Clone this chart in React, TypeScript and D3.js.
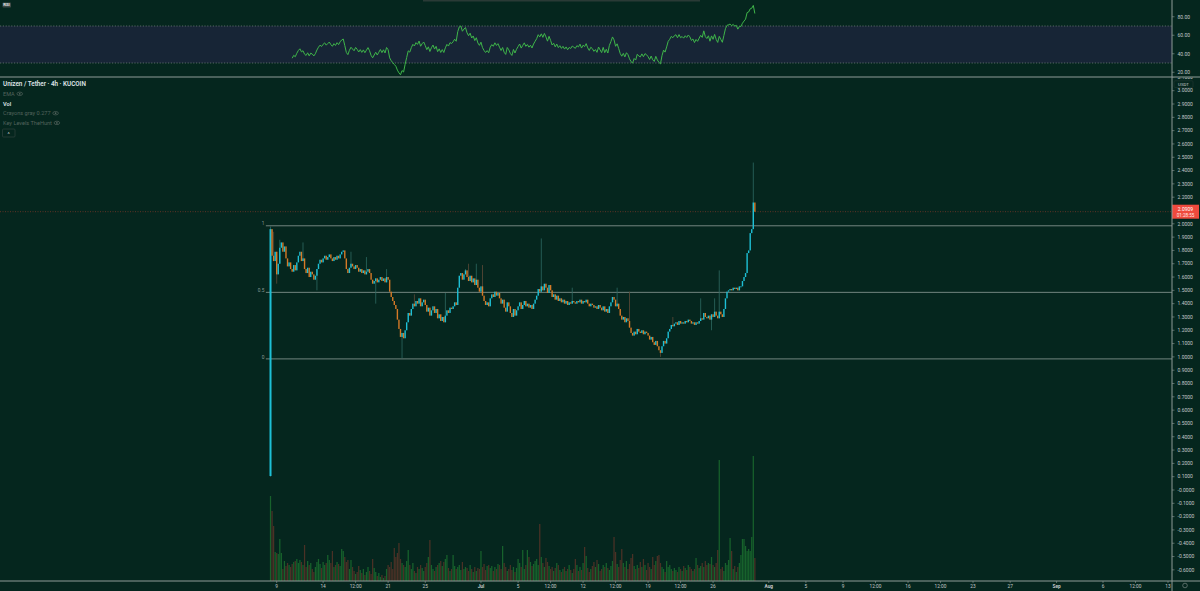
import React from "react";
import * as d3 from "d3";

// ---------------- DATA ----------------
const firstCandleTime = "2021-06-08T08:00:00Z";
const candleHours = 4;
const firstOpen = 0.105;

// 4h closes, one row per day (Jun 8 .. Jul 30)
const closesByDay: number[][] = [
  [1.96, 1.76, 1.72, 1.79], // Jun 8
  [1.62, 1.70, 1.82, 1.86, 1.79, 1.83], // Jun 9
  [1.74, 1.68, 1.71, 1.66, 1.64, 1.69], // Jun 10
  [1.65, 1.71, 1.76, 1.79, 1.72, 1.74], // Jun 11
  [1.66, 1.63, 1.67, 1.60, 1.64, 1.62], // Jun 12
  [1.58, 1.61, 1.66, 1.70, 1.73, 1.71], // Jun 13
  [1.74, 1.76, 1.73, 1.75, 1.77, 1.74], // Jun 14
  [1.72, 1.75, 1.73, 1.76, 1.74, 1.77], // Jun 15
  [1.79, 1.80, 1.74, 1.66, 1.63, 1.67], // Jun 16
  [1.70, 1.68, 1.66, 1.69, 1.67, 1.64], // Jun 17
  [1.66, 1.63, 1.65, 1.62, 1.64, 1.66], // Jun 18
  [1.63, 1.58, 1.55, 1.57, 1.59, 1.56], // Jun 19
  [1.58, 1.60, 1.57, 1.59, 1.56, 1.60], // Jun 20
  [1.58, 1.49, 1.45, 1.42, 1.39, 1.36], // Jun 21
  [1.28, 1.21, 1.15, 1.18, 1.14, 1.20], // Jun 22
  [1.26, 1.33, 1.31, 1.36, 1.40, 1.38], // Jun 23
  [1.42, 1.40, 1.44, 1.38, 1.41, 1.43], // Jun 24
  [1.39, 1.34, 1.37, 1.31, 1.35, 1.38], // Jun 25
  [1.33, 1.36, 1.29, 1.32, 1.27, 1.30], // Jun 26
  [1.26, 1.31, 1.35, 1.33, 1.37, 1.36], // Jun 27
  [1.38, 1.41, 1.39, 1.52, 1.61, 1.63], // Jun 28
  [1.58, 1.62, 1.65, 1.60, 1.57, 1.61], // Jun 29
  [1.56, 1.59, 1.54, 1.58, 1.52, 1.49], // Jun 30
  [1.53, 1.46, 1.42, 1.39, 1.41, 1.38], // Jul 1
  [1.44, 1.47, 1.45, 1.49, 1.46, 1.48], // Jul 2
  [1.44, 1.40, 1.43, 1.37, 1.34, 1.41], // Jul 3
  [1.38, 1.33, 1.30, 1.36, 1.31, 1.35], // Jul 4
  [1.38, 1.41, 1.36, 1.39, 1.42, 1.38], // Jul 5
  [1.40, 1.37, 1.39, 1.36, 1.40, 1.43], // Jul 6
  [1.46, 1.51, 1.49, 1.53, 1.50, 1.55], // Jul 7
  [1.52, 1.48, 1.54, 1.50, 1.45, 1.47], // Jul 8
  [1.43, 1.46, 1.42, 1.44, 1.41, 1.43], // Jul 9
  [1.40, 1.42, 1.39, 1.41, 1.40, 1.42], // Jul 10
  [1.41, 1.40, 1.42, 1.41, 1.43, 1.40], // Jul 11
  [1.42, 1.41, 1.43, 1.40, 1.38, 1.40], // Jul 12
  [1.39, 1.37, 1.38, 1.36, 1.39, 1.37], // Jul 13
  [1.35, 1.38, 1.34, 1.36, 1.33, 1.38], // Jul 14
  [1.41, 1.45, 1.43, 1.38, 1.40, 1.36], // Jul 15
  [1.31, 1.28, 1.30, 1.26, 1.29, 1.27], // Jul 16
  [1.22, 1.18, 1.16, 1.19, 1.17, 1.21], // Jul 17
  [1.19, 1.18, 1.20, 1.17, 1.19, 1.18], // Jul 18
  [1.16, 1.13, 1.15, 1.11, 1.09, 1.12], // Jul 19
  [1.08, 1.05, 1.03, 1.08, 1.12, 1.10], // Jul 20
  [1.14, 1.19, 1.21, 1.24, 1.23, 1.25], // Jul 21
  [1.26, 1.24, 1.27, 1.25, 1.26, 1.25], // Jul 22
  [1.27, 1.26, 1.28, 1.27, 1.25, 1.26], // Jul 23
  [1.24, 1.26, 1.25, 1.27, 1.29, 1.28], // Jul 24
  [1.33, 1.30, 1.29, 1.31, 1.28, 1.32], // Jul 25
  [1.30, 1.34, 1.31, 1.29, 1.34, 1.32], // Jul 26
  [1.30, 1.36, 1.44, 1.49, 1.50, 1.51], // Jul 27
  [1.50, 1.52, 1.51, 1.52, 1.50, 1.53], // Jul 28
  [1.53, 1.57, 1.60, 1.63, 1.78, 1.80], // Jul 29
  [1.93, 1.96, 2.16, 2.0909], // Jul 30
];

// 4h volumes (thousands), same layout
const volumesByDay: number[][] = [
  [85, 70, 55, 29],
  [28, 27, 42, 28, 12, 20],
  [15, 18, 16, 14, 17, 19],
  [20, 22, 18, 21, 19, 16],
  [36, 14, 20, 16, 18, 12],
  [9, 14, 19, 22, 17, 13],
  [19, 16, 18, 26, 21, 18],
  [30, 14, 16, 19, 17, 15],
  [32, 30, 24, 19, 21, 12],
  [21, 14, 10, 7, 9, 15],
  [11, 8, 12, 6, 9, 14],
  [10, 7, 22, 13, 9, 5],
  [8, 4, 6, 3, 5, 12],
  [16, 14, 19, 12, 33, 24],
  [28, 38, 22, 18, 16, 14],
  [20, 31, 16, 12, 18, 10],
  [8, 14, 12, 16, 13, 10],
  [14, 18, 24, 41, 16, 12],
  [10, 14, 16, 18, 20, 15],
  [19, 22, 26, 13, 10, 12],
  [26, 15, 12, 14, 16, 11],
  [19, 12, 14, 13, 10, 16],
  [12, 9, 14, 10, 13, 12],
  [30, 14, 17, 11, 15, 16],
  [13, 15, 10, 14, 12, 17],
  [16, 12, 35, 18, 14, 10],
  [12, 16, 11, 14, 9, 13],
  [22, 18, 14, 31, 12, 16],
  [31, 24, 19, 15, 17, 20],
  [22, 16, 57, 24, 18, 14],
  [23, 19, 15, 12, 14, 10],
  [13, 18, 16, 11, 9, 12],
  [14, 10, 12, 16, 11, 8],
  [12, 22, 16, 10, 14, 11],
  [18, 34, 25, 13, 9, 12],
  [15, 19, 14, 21, 17, 10],
  [12, 16, 14, 18, 13, 11],
  [15, 20, 44, 29, 17, 14],
  [21, 32, 18, 14, 20, 12],
  [17, 23, 27, 15, 12, 16],
  [13, 19, 14, 22, 16, 11],
  [18, 14, 12, 24, 16, 20],
  [25, 26, 18, 14, 12, 9],
  [20, 14, 16, 12, 10, 13],
  [11, 9, 14, 12, 10, 15],
  [13, 11, 16, 14, 12, 10],
  [12, 23, 16, 13, 15, 18],
  [14, 20, 16, 18, 17, 24],
  [16, 14, 18, 31, 121, 12],
  [14, 10, 18, 16, 21, 43],
  [30, 12, 15, 9, 14, 18],
  [26, 42, 42, 35, 30, 32],
  [30, 44, 125, 23],
];

// notable wicks: [candle index, price]
const wickHighs: [number, number][] = [
  [0, 1.98], [2, 1.94], [6, 1.88], [21, 1.86], [52, 1.79], [62, 1.75],
  [75, 1.66], [93, 1.47], [113, 1.48], [126, 1.66], [128, 1.70], [133, 1.70],
  [137, 1.69], [175, 1.89], [195, 1.52], [224, 1.52], [232, 1.49], [260, 1.30],
  [278, 1.44], [287, 1.44], [290, 1.65], [312, 2.46],
];
const wickLows: [number, number][] = [
  [0, 0.10], [4, 1.55], [30, 1.50], [68, 1.40], [85, 0.99], [252, 1.00], [285, 1.20],
];

const priceTicks = [
  3.1, 3.0, 2.9, 2.8, 2.7, 2.6, 2.5, 2.4, 2.3, 2.2, 2.1, 2.0, 1.9, 1.8, 1.7, 1.6,
  1.5, 1.4, 1.3, 1.2, 1.1, 1.0, 0.9, 0.8, 0.7, 0.6, 0.5, 0.4, 0.3, 0.2, 0.1, 0.0,
  -0.1, -0.2, -0.3, -0.4, -0.5, -0.6,
];
const rsiTicks = [80, 60, 40, 20];
const rsiBand = [30, 70];
const rsiPeriod = 14;

const fibLevels = [1, 0.5, 0];
const fibLowPrice = 0.985;
const fibHighPrice = 1.985;
const fibStartTime = "2021-06-07T20:00:00Z";

const lastPrice = 2.0909;
const countdown = "01:28:55";
const quoteLabel = "USDT";

const timeTicks: { t: string; label: string; major?: boolean }[] = [
  { t: "2021-06-09T00:00:00Z", label: "9" },
  { t: "2021-06-14T00:00:00Z", label: "14" },
  { t: "2021-06-17T12:00:00Z", label: "12:00" },
  { t: "2021-06-21T00:00:00Z", label: "21" },
  { t: "2021-06-25T00:00:00Z", label: "25" },
  { t: "2021-07-01T00:00:00Z", label: "Jul", major: true },
  { t: "2021-07-05T00:00:00Z", label: "5" },
  { t: "2021-07-08T12:00:00Z", label: "12:00" },
  { t: "2021-07-12T00:00:00Z", label: "12" },
  { t: "2021-07-15T12:00:00Z", label: "12:00" },
  { t: "2021-07-19T00:00:00Z", label: "19" },
  { t: "2021-07-22T12:00:00Z", label: "12:00" },
  { t: "2021-07-26T00:00:00Z", label: "26" },
  { t: "2021-08-01T00:00:00Z", label: "Aug", major: true },
  { t: "2021-08-05T00:00:00Z", label: "5" },
  { t: "2021-08-09T00:00:00Z", label: "9" },
  { t: "2021-08-12T12:00:00Z", label: "12:00" },
  { t: "2021-08-16T00:00:00Z", label: "16" },
  { t: "2021-08-19T12:00:00Z", label: "12:00" },
  { t: "2021-08-23T00:00:00Z", label: "23" },
  { t: "2021-08-27T00:00:00Z", label: "27" },
  { t: "2021-09-01T00:00:00Z", label: "Sep", major: true },
  { t: "2021-09-06T00:00:00Z", label: "6" },
  { t: "2021-09-09T12:00:00Z", label: "12:00" },
  { t: "2021-09-13T00:00:00Z", label: "13" },
];

const paneTitle = "RSI";
const legendTitle = "Unizen / Tether · 4h · KUCOIN";
const legendItems = ["EMA", "Vol", "Crayons gray 0.277", "Key Levels TheHunt"];
const legendHidden = [true, false, true, true];

// ---------------- STYLE / LAYOUT ----------------
const W = 1200;
const H = 591;
const AXIS_X = 1172;
const RSI_BOTTOM = 77;
const TIME_AXIS_Y = 581;
const BG = "#05261e";
const UP = "#1ec0d6";
const DOWN = "#d67a27";
const UP_WICK = "#2d6a62";
const DOWN_WICK = "#5e4a37";
const VOL_UP = "#17622c";
const VOL_DOWN = "#4b3126";
const LINE = "#8f9b97";
const TEXT = "#c3c8ca";
const MUTED = "#53635d";
const FONT = "Roboto, 'Noto Sans', sans-serif";

function computeRsi(closes: number[], n: number): (number | null)[] {
  const out: (number | null)[] = closes.map(() => null);
  if (closes.length <= n) return out;
  let g = 0;
  let l = 0;
  for (let i = 1; i <= n; i++) {
    const d = closes[i] - closes[i - 1];
    if (d > 0) g += d;
    else l -= d;
  }
  g /= n;
  l /= n;
  out[n] = l === 0 ? 100 : 100 - 100 / (1 + g / l);
  for (let i = n + 1; i < closes.length; i++) {
    const d = closes[i] - closes[i - 1];
    g = (g * (n - 1) + Math.max(d, 0)) / n;
    l = (l * (n - 1) + Math.max(-d, 0)) / n;
    out[i] = l === 0 ? 100 : 100 - 100 / (1 + g / l);
  }
  return out;
}

function Eye({ x, y }: { x: number; y: number }) {
  return (
    <g>
      <ellipse cx={x} cy={y} rx={2.8} ry={1.7} fill="none" stroke={MUTED} strokeWidth={0.7} />
      <circle cx={x} cy={y} r={0.85} fill={MUTED} />
    </g>
  );
}

export default function App() {
  const textRefs = React.useRef<(SVGTextElement | null)[]>([]);
  const [textW, setTextW] = React.useState<number[]>(legendItems.map((s) => s.length * 2.8));
  React.useLayoutEffect(() => {
    setTextW(textRefs.current.map((el, i) => (el ? el.getComputedTextLength() : legendItems[i].length * 2.8)));
  }, []);

  const closes = closesByDay.flat();
  const volumes = volumesByDay.flat();
  const t0 = new Date(firstCandleTime).getTime();
  const hiMap = new Map(wickHighs);
  const loMap = new Map(wickLows);

  const candles = closes.map((c, i) => {
    const o = i === 0 ? firstOpen : closes[i - 1];
    const high = Math.max(o, c, hiMap.get(i) ?? -Infinity);
    const low = Math.min(o, c, loMap.get(i) ?? Infinity);
    return { t: new Date(t0 + i * candleHours * 3600e3), o, c, high, low, v: volumes[i] ?? 0 };
  });
  const rsi = computeRsi(closes, rsiPeriod);

  const x = d3
    .scaleUtc()
    .domain([new Date("2021-06-09T00:00:00Z"), new Date("2021-09-13T00:00:00Z")])
    .range([276.7, 1168]);
  const y = d3.scaleLinear().domain([0, 3]).range([490, 90.7]);
  const yRsi = d3.scaleLinear().domain([30, 70]).range([63, 26]);
  const yVol = d3.scaleLinear().domain([0, d3.max(volumes) as number]).range([TIME_AXIS_Y, 456]);

  const rsiLine = d3
    .line<{ t: Date; r: number | null }>()
    .defined((d) => d.r !== null)
    .x((d) => x(d.t))
    .y((d) => yRsi(d.r as number));
  const rsiPath = rsiLine(candles.map((c, i) => ({ t: c.t, r: rsi[i] }))) || "";

  const bw = 1.4;
  const vw = 1.25;
  const fibX0 = x(new Date(fibStartTime));

  return (
    <svg
      width={W}
      height={H}
      style={{ position: "fixed", left: 0, top: 0, display: "block" }}
      fontFamily={FONT}
    >
      <defs>
        <clipPath id="mainClip">
          <rect x={0} y={RSI_BOTTOM + 0.5} width={AXIS_X} height={TIME_AXIS_Y - RSI_BOTTOM - 0.5} />
        </clipPath>
        <clipPath id="rsiClip">
          <rect x={0} y={0} width={AXIS_X} height={RSI_BOTTOM} />
        </clipPath>
        <clipPath id="axisClip">
          <rect x={AXIS_X} y={RSI_BOTTOM + 0.5} width={W - AXIS_X} height={TIME_AXIS_Y - RSI_BOTTOM - 0.5} />
        </clipPath>
      </defs>
      <rect x={0} y={0} width={W} height={H} fill={BG} />
      <rect x={423} y={0} width={277} height={1.5} fill="#2a3a36" />

      {/* RSI pane */}
      <g clipPath="url(#rsiClip)">
        <rect
          x={0}
          y={yRsi(rsiBand[1])}
          width={AXIS_X}
          height={yRsi(rsiBand[0]) - yRsi(rsiBand[1])}
          fill="#172536"
        />
        {rsiBand.map((b) => (
          <line
            key={b}
            x1={0}
            x2={AXIS_X}
            y1={yRsi(b)}
            y2={yRsi(b)}
            stroke="#6b7875"
            strokeWidth={0.8}
            strokeDasharray="1.2 1.6"
          />
        ))}
        <path d={rsiPath} fill="none" stroke="#3fb64a" strokeWidth={1} />
      </g>
      <rect x={2.5} y={2.5} width={8.5} height={5} rx={0.8} fill="#3d4a47" />
      <text x={3.2} y={6.4} fontSize={4.3} fill="#e8ecec" fontWeight={600}>
        {paneTitle}
      </text>
      {rsiTicks.map((r) => (
        <g key={r}>
          <line x1={AXIS_X} x2={AXIS_X + 2.5} y1={yRsi(r)} y2={yRsi(r)} stroke={LINE} strokeWidth={0.6} />
          <text x={1177.5} y={yRsi(r)} dy="0.35em" fontSize={5} fill={TEXT}>
            {r.toFixed(2)}
          </text>
        </g>
      ))}

      {/* main pane */}
      <g clipPath="url(#mainClip)">
        {candles.map((c, i) => (
          <rect
            key={"v" + i}
            x={x(c.t) - vw / 2}
            y={yVol(c.v)}
            width={vw}
            height={TIME_AXIS_Y - yVol(c.v)}
            fill={c.c >= c.o ? VOL_UP : VOL_DOWN}
          />
        ))}
        <line
          x1={0}
          x2={AXIS_X}
          y1={y(lastPrice)}
          y2={y(lastPrice)}
          stroke="#9c3f2e"
          strokeOpacity={0.75}
          strokeWidth={0.8}
          strokeDasharray="1 1.5"
        />
        {fibLevels.map((f) => {
          const py = y(fibLowPrice + f * (fibHighPrice - fibLowPrice));
          return (
            <g key={f}>
              <line x1={fibX0} x2={AXIS_X} y1={py} y2={py} stroke="#a7b3ae" strokeOpacity={0.85} strokeWidth={0.8} />
              <text x={fibX0 - 1.5} y={py - 0.3} fontSize={4.8} fill="#8c9994" textAnchor="end">
                {String(f)}
              </text>
            </g>
          );
        })}
        {candles.map((c, i) => {
          const up = c.c >= c.o;
          const cx = x(c.t);
          const top = y(Math.max(c.o, c.c));
          const bot = y(Math.min(c.o, c.c));
          return (
            <g key={"c" + i}>
              {(c.high > Math.max(c.o, c.c) || c.low < Math.min(c.o, c.c)) && (
                <line
                  x1={cx}
                  x2={cx}
                  y1={y(c.high)}
                  y2={y(c.low)}
                  stroke={up ? UP_WICK : DOWN_WICK}
                  strokeWidth={0.8}
                />
              )}
              <rect
                x={cx - (i === 0 ? 1 : bw / 2)}
                y={top}
                width={i === 0 ? 2 : bw}
                height={Math.max(0.9, bot - top)}
                fill={up ? UP : DOWN}
              />
            </g>
          );
        })}
      </g>

      {/* legend */}
      <text x={3} y={86.2} fontSize={6.3} fill="#dfe3e6" fontWeight={600}>
        {legendTitle}
      </text>
      {legendItems.map((s, i) => {
        const ly = 95.8 + i * 9.7;
        return (
          <g key={s}>
            <text
              ref={(el) => {
                textRefs.current[i] = el;
              }}
              x={3}
              y={ly}
              fontSize={5.6}
              fill={legendHidden[i] ? MUTED : "#dfe3e6"}
              fontWeight={legendHidden[i] ? 400 : 600}
            >
              {s}
            </text>
            {legendHidden[i] && <Eye x={3 + textW[i] + 5} y={ly - 2} />}
          </g>
        );
      })}
      <rect x={2.5} y={129} width={12.5} height={8} rx={1} fill="none" stroke="#2f423d" strokeWidth={0.7} />
      <text x={8.75} y={135.5} fontSize={5.5} fill="#c9cfcf" textAnchor="middle">
        ^
      </text>

      {/* price axis */}
      <g clipPath="url(#axisClip)">
        {priceTicks.map((p) => (
          <g key={p}>
            <line x1={AXIS_X} x2={AXIS_X + 2.5} y1={y(p)} y2={y(p)} stroke={LINE} strokeWidth={0.6} />
            <text x={1177.5} y={y(p)} dy="0.35em" fontSize={5} fill={TEXT}>
              {Math.abs(p) < 1e-9 ? "-0.0000" : p.toFixed(4)}
            </text>
          </g>
        ))}
        <rect x={1174} y={80.8} width={19} height={6.6} rx={1} fill={BG} stroke="#2c3f3a" strokeWidth={0.5} />
        <text x={1183.5} y={84.1} dy="0.35em" fontSize={4.4} fill={TEXT} textAnchor="middle">
          {quoteLabel}
        </text>
      </g>
      <rect x={AXIS_X} y={y(lastPrice) - 7} width={W - AXIS_X - 1} height={14} fill="#ee4a3d" />
      <text x={1185.5} y={y(lastPrice) - 2.8} dy="0.35em" fontSize={5} fill="#ffffff" textAnchor="middle">
        {lastPrice.toFixed(4)}
      </text>
      <text x={1185.5} y={y(lastPrice) + 3.6} dy="0.35em" fontSize={4.6} fill="#ffe9e7" textAnchor="middle">
        {countdown}
      </text>

      {/* time axis */}
      {timeTicks.map((tk) => {
        const tx = x(new Date(tk.t));
        return (
          <g key={tk.t}>
            <line x1={tx} x2={tx} y1={TIME_AXIS_Y} y2={TIME_AXIS_Y + 2} stroke={LINE} strokeWidth={0.6} />
            <text
              x={tx}
              y={586}
              dy="0.35em"
              fontSize={4.8}
              fill={TEXT}
              textAnchor="middle"
              fontWeight={tk.major ? 700 : 400}
            >
              {tk.label}
            </text>
          </g>
        );
      })}
      <circle cx={1185} cy={585.5} r={2.3} fill="none" stroke="#8a9692" strokeWidth={0.6} />

      {/* pane separators */}
      <line x1={0} x2={W} y1={RSI_BOTTOM} y2={RSI_BOTTOM} stroke={LINE} strokeWidth={1} />
      <line x1={0} x2={W} y1={TIME_AXIS_Y} y2={TIME_AXIS_Y} stroke={LINE} strokeWidth={1} />
      <line x1={AXIS_X} x2={AXIS_X} y1={0} y2={H} stroke={LINE} strokeWidth={1} />
    </svg>
  );
}
